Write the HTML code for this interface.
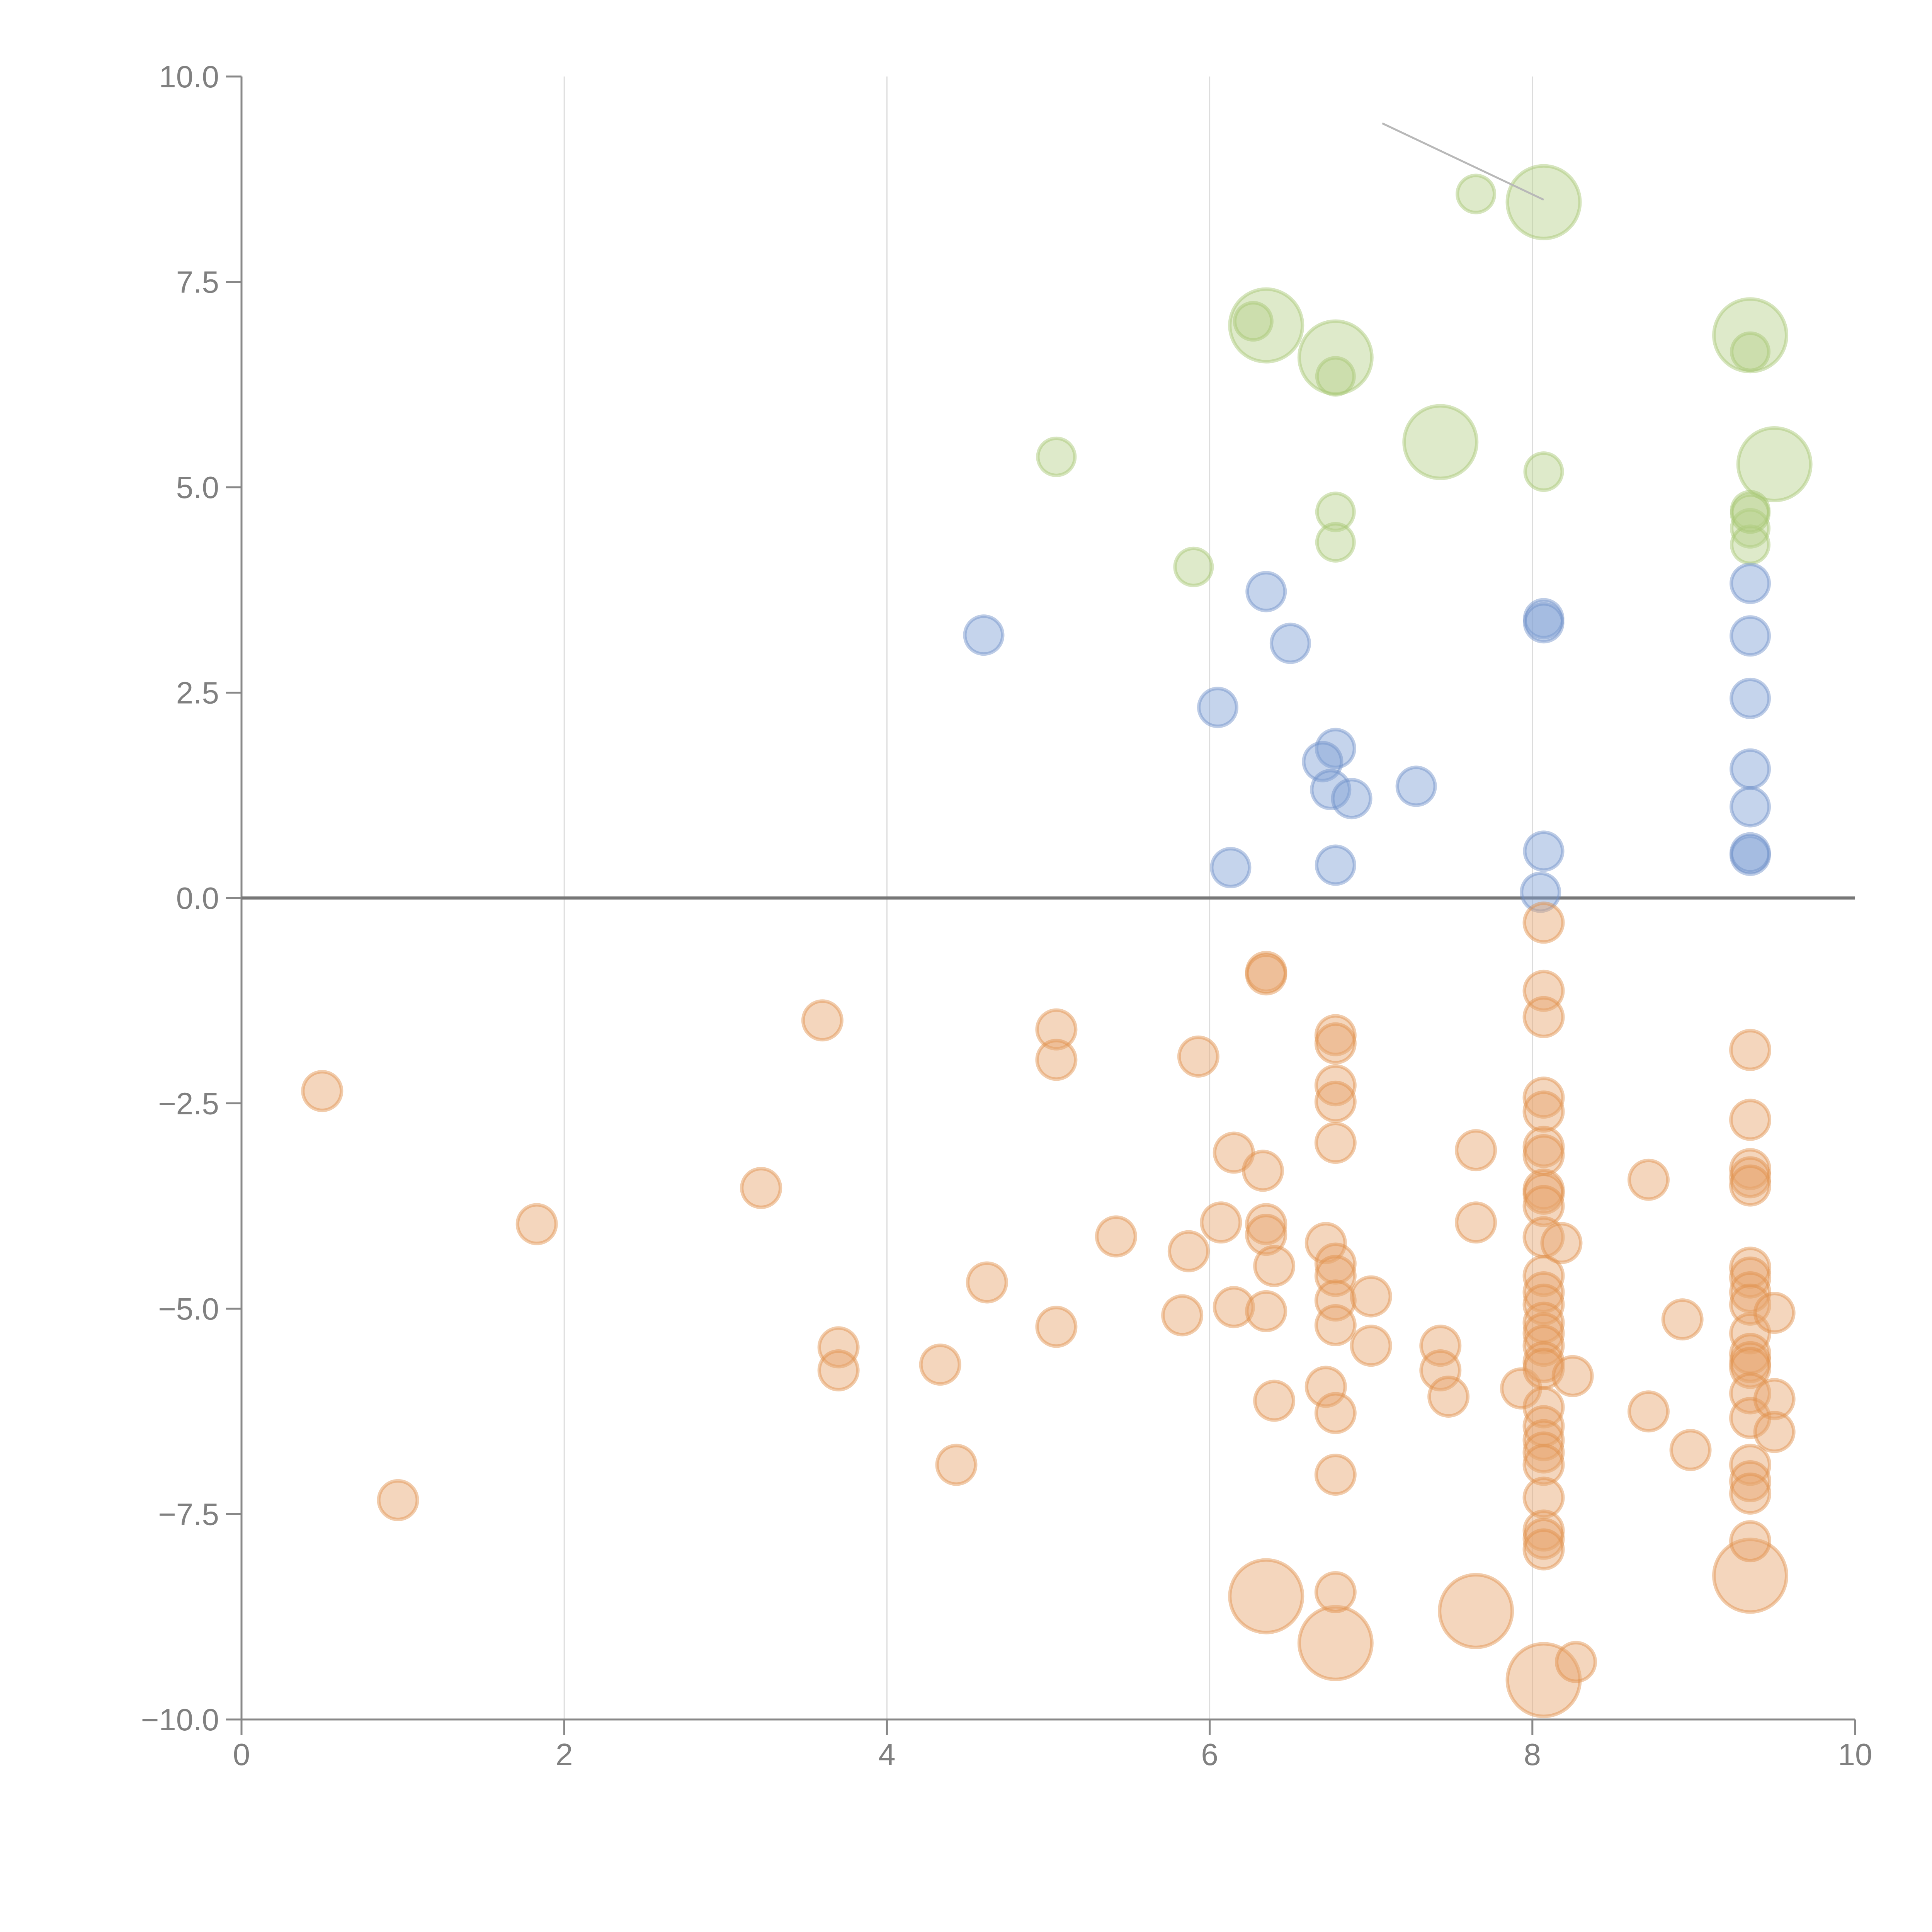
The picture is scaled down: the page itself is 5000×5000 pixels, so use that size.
<!DOCTYPE html>
<html><head><meta charset="utf-8"><style>html,body{margin:0;padding:0;background:#fff}svg{display:block}</style></head>
<body>
<svg id="chart" width="5000" height="5000" xmlns="http://www.w3.org/2000/svg" font-family="Liberation Sans, sans-serif">
<g id="grid"></g>
<g id="axes"></g>
<g id="marks"></g>
</svg>
<script>
const xTicks=[0,2,4,6,8,10];
const yTicks=[-10,-7.5,-5,-2.5,0,2.5,5,7.5,10];
const greenSmall=[[7.65,8.57],[6.27,7.02],[6.78,6.35],[9.35,6.65],[5.05,5.37],[8.07,5.19],[6.78,4.7],[6.78,4.33],[5.9,4.03],[9.35,4.72],[9.35,4.5],[9.35,4.3],[9.35,4.68]];
const greenBig=[[8.07,8.47],[6.35,6.97],[6.78,6.58],[9.35,6.85],[7.43,5.55],[9.5,5.28]];
const blueSmall=[[4.6,3.2],[6.35,3.73],[6.5,3.1],[6.05,2.32],[6.78,1.82],[6.7,1.66],[6.75,1.32],[6.88,1.21],[7.28,1.36],[6.13,0.37],[6.78,0.4],[8.07,3.4],[8.07,3.35],[8.07,0.57],[8.05,0.07],[9.35,3.83],[9.35,3.19],[9.35,2.43],[9.35,1.57],[9.35,1.11],[9.35,0.52],[9.35,0.55]];
const orangeSmall=[[0.5,-2.35],[0.97,-7.33],[1.83,-3.97],[3.22,-3.53],[3.6,-1.49],[3.7,-5.47],[3.7,-5.75],[4.33,-5.68],[4.43,-6.9],[4.62,-4.68],[5.05,-1.6],[5.05,-1.97],[5.05,-5.22],[5.42,-4.12],[5.83,-5.08],[5.87,-4.3],[5.93,-1.93],[6.07,-3.95],[6.15,-3.1],[6.15,-4.98],[6.33,-3.32],[6.35,-0.9],[6.35,-0.93],[6.35,-3.97],[6.35,-4.1],[6.35,-5.03],[6.4,-4.48],[6.4,-6.12],[6.72,-4.2],[6.72,-5.95],[6.78,-1.67],[6.78,-1.77],[6.78,-2.28],[6.78,-2.48],[6.78,-2.98],[6.78,-4.45],[6.78,-4.6],[6.78,-4.9],[6.78,-5.2],[6.78,-6.27],[6.78,-7.02],[6.78,-8.45],[7.0,-4.85],[7.0,-5.45],[7.43,-5.45],[7.43,-5.75],[7.48,-6.07],[7.65,-3.07],[7.65,-3.95],[7.93,-5.97],[8.07,-0.3],[8.07,-1.13],[8.07,-1.45],[8.07,-2.43],[8.07,-2.6],[8.07,-3.03],[8.07,-3.13],[8.07,-3.55],[8.07,-3.6],[8.07,-3.75],[8.07,-4.13],[8.07,-4.6],[8.07,-4.8],[8.07,-4.95],[8.07,-5.17],[8.07,-5.3],[8.07,-5.45],[8.07,-5.65],[8.07,-5.73],[8.07,-6.2],[8.07,-6.43],[8.07,-6.6],[8.07,-6.75],[8.07,-6.9],[8.07,-7.3],[8.07,-7.7],[8.07,-7.8],[8.07,-7.93],[8.18,-4.2],[8.25,-5.82],[8.72,-3.43],[8.72,-6.25],[8.93,-5.13],[8.98,-6.72],[9.35,-1.85],[9.35,-2.7],[9.35,-3.3],[9.35,-3.4],[9.35,-3.5],[9.35,-4.5],[9.35,-4.62],[9.35,-4.8],[9.35,-4.95],[9.35,-5.3],[9.35,-5.55],[9.35,-5.65],[9.35,-5.72],[9.35,-6.03],[9.35,-6.33],[9.35,-6.9],[9.35,-7.1],[9.35,-7.25],[9.35,-7.83],[9.5,-5.05],[9.5,-6.1],[9.5,-6.5],[8.27,-9.3]];
const orangeBig=[[6.35,-8.5],[6.78,-9.07],[7.65,-8.68],[8.07,-9.52],[9.35,-8.25]];
const annotLine=[[7.07,9.43],[8.07,8.5]];

const NS='http://www.w3.org/2000/svg';
const X0=625,X1=4801,Y0=4450,Y1=198;
const xs=v=>X0+(v-0)/10*(X1-X0);
const ys=v=>Y0-(v+10)/20*(Y0-Y1);
function mk(tag,attrs,parent){const e=document.createElementNS(NS,tag);for(const k in attrs)e.setAttribute(k,attrs[k]);parent.appendChild(e);return e;}
const grid=document.getElementById('grid'),axes=document.getElementById('axes'),marks=document.getElementById('marks');
xTicks.forEach(t=>{if(t>0&&t<10){const l=mk('line',{x1:xs(t),x2:xs(t),y1:Y1,y2:Y0,stroke:'#dcdcdc','stroke-width':3},grid);

}});
let a=mk('line',{x1:X0,x2:X0,y1:Y1,y2:Y0,stroke:'#888','stroke-width':5},axes);


a=mk('line',{x1:X0,x2:X1,y1:Y0,y2:Y0,stroke:'#888','stroke-width':5},axes);


yTicks.forEach(t=>{const y=ys(t);mk('line',{x1:X0-40,x2:X0,y1:y,y2:y,stroke:'#888','stroke-width':5},axes);
const tx=mk('text',{x:X0-58,y:y+28,'text-anchor':'end','font-size':80,fill:'#808080'},axes);
tx.textContent=t.toFixed(1).replace('-','\u2212');

});
xTicks.forEach(t=>{const x=xs(t);mk('line',{x1:x,x2:x,y1:Y0,y2:Y0+40,stroke:'#888','stroke-width':5},axes);
const tx=mk('text',{x:x,y:Y0+118,'text-anchor':'middle','font-size':80,fill:'#808080'},axes);
tx.textContent=String(t);

});
let z=mk('line',{x1:X0,x2:X1,y1:ys(0),y2:ys(0),stroke:'#777','stroke-width':8},axes);


function draw(data,r,fill,stroke,name){data.forEach(d=>{const c=mk('circle',{cx:xs(d[0]),cy:ys(d[1]),r:r,fill:fill,'fill-opacity':0.45,stroke:stroke,'stroke-opacity':0.45,'stroke-width':9},marks);

});}
draw(greenBig,94,'#b5d08a','#a3c66e','green-big-bubble');
draw(greenSmall,48,'#b5d08a','#a3c66e','green-bubble');
draw(blueSmall,49,'#7fa0d4','#6c8fc8','blue-bubble');
draw(orangeBig,94,'#e6a56c','#e08d48','orange-big-bubble');
draw(orangeSmall,50,'#e6a56c','#e08d48','orange-bubble');
const al=mk('line',{x1:xs(annotLine[0][0]),y1:ys(annotLine[0][1]),x2:xs(annotLine[1][0]),y2:ys(annotLine[1][1]),stroke:'#b8b8b8','stroke-width':5},marks);


</script>
</body></html>
